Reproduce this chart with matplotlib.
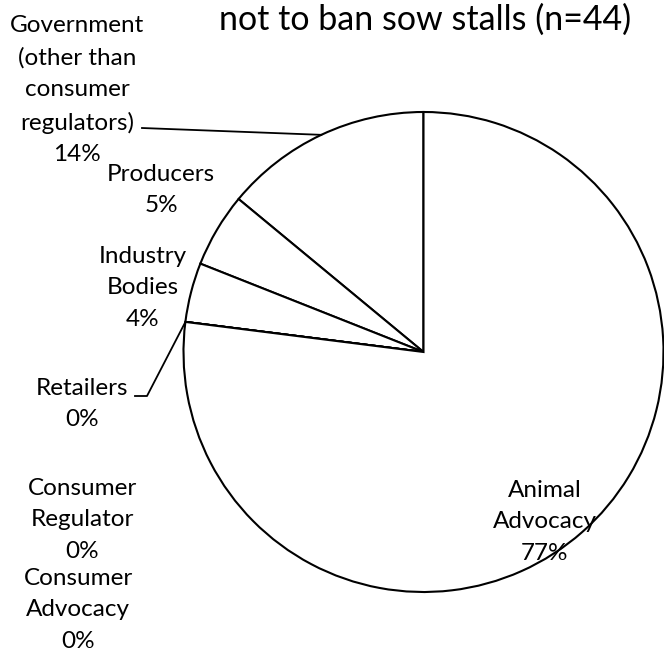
"""
Pie chart: stakeholder groups not to ban sow stalls
"""

import matplotlib
matplotlib.use('Agg')
import matplotlib.pyplot as plt
import numpy as np

plt.rcParams['font.family'] = ['Lato', 'DejaVu Sans']

# data
groups = ['Government\n(other than\nconsumer\nregulators)', 'Producers', 'Industry\nBodies',
          'Retailers', 'Consumer\nRegulator', 'Consumer\nAdvocacy', 'Animal\nAdvocacy']
shares = [14, 5, 4, 0, 0, 0, 77]
title = 'not to ban sow stalls (n=44)'

W, H = 664, 657
CX, CY, R = 423.5, 352, 240.0


def px(x, y):
    # pixel position -> pie data units (radius 1, centre at 0)
    return (x - CX) / R, (CY - y) / R


fig = plt.figure(figsize=(W / 100, H / 100), dpi=100)
ax = fig.add_axes([0, 0, 1, 1])

wedges, _ = ax.pie(shares, startangle=90, counterclock=True, radius=1,
                   colors=['white'] * len(shares),
                   wedgeprops=dict(edgecolor='black', linewidth=1.5))

# pie() resets the limits, so set them afterwards
ax.set_xlim(-CX / R, (W - CX) / R)
ax.set_ylim((CY - H) / R, CY / R)
ax.set_aspect('equal')
ax.axis('off')

# label block centres (pixels)
label_pos = [(77, 90), (161, 190), (143, 288), (82, 404), (82, 520), (78, 610), (545, 522)]

for name, val, (x, y) in zip(groups, shares, label_pos):
    ax.text(*px(x, y), f'{name}\n{val}%', ha='center', va='center',
            fontsize=17.5, linespacing=1.63)

# leader line for Government -> middle of its wedge
w = wedges[0]
a = np.deg2rad(0.5 * (w.theta1 + w.theta2))
x0, y0 = px(142, 128)
ax.plot([x0, np.cos(a)], [y0, np.sin(a)], color='black', lw=1.3)

# leader line for Retailers (zero slice)
w = wedges[3]
a = np.deg2rad(w.theta1)
xe, ye = px(147, 396)
xs, ys = px(135, 396)
ax.plot([np.cos(a), xe, xs], [np.sin(a), ye, ys], color='black', lw=1.3)

ax.text(*px(425, 20), title, ha='center', va='center', fontsize=24.5)

plt.savefig('out.png', dpi=100)
plt.close()
